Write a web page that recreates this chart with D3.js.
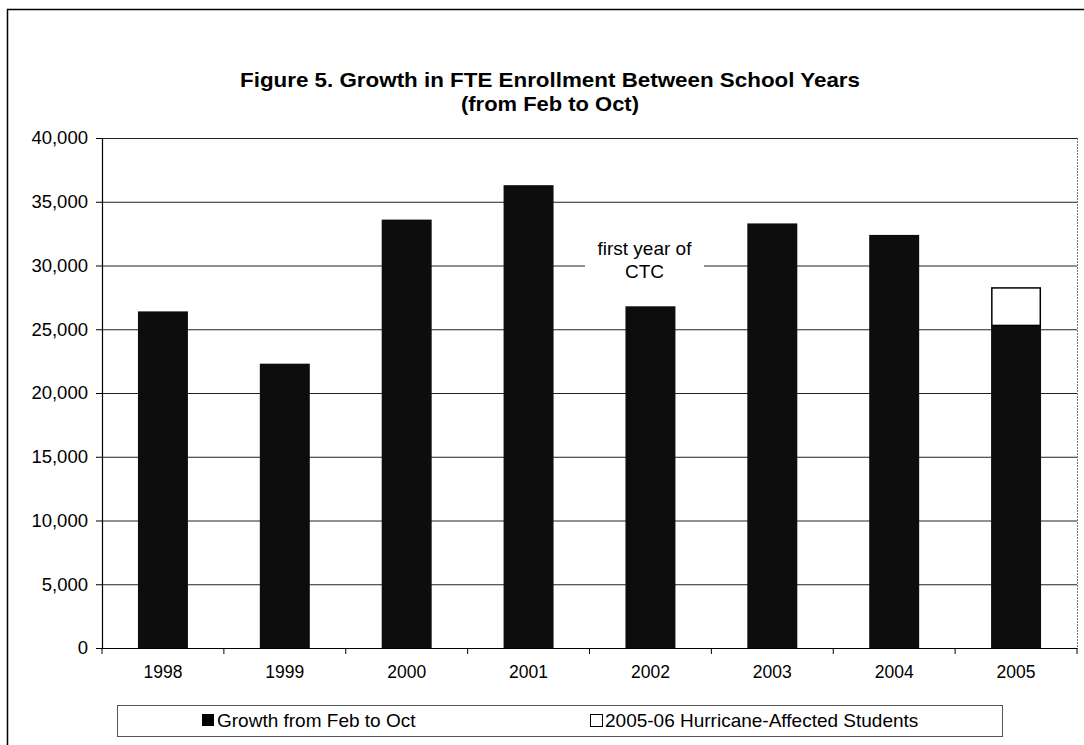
<!DOCTYPE html>
<html><head><meta charset="utf-8">
<script src="https://cdn.jsdelivr.net/npm/d3@7"></script>
<style>body{margin:0;background:#fff}svg{display:block;font-family:"Liberation Sans",Arial,sans-serif}</style>
</head><body><svg id="c" width="1084" height="745"></svg>
<script>
const years = ["1998","1999","2000","2001","2002","2003","2004","2005"];
const growth = [26400, 22300, 33600, 36300, 26800, 33300, 32400, 25300];
const hurricane = [0, 0, 0, 0, 0, 0, 0, 3000];
const yTicks = [0,5000,10000,15000,20000,25000,30000,35000,40000];
const seriesNames = ["Growth from Feb to Oct", "2005-06 Hurricane-Affected Students"];

const svg = d3.select("#c");
const L = 102, R = 1077, T = 138, B = 648;
const x = d3.scaleBand().domain(years).range([L, R]).paddingInner(0.59).paddingOuter(0.295);
const y = d3.scaleLinear().domain([0, 40000]).range([B, T]);

// outer border
svg.append("path").attr("d","M7.5,745 L7.5,9.5 L1084,9.5").attr("fill","none").attr("stroke","#000").attr("stroke-width",1.5);

// title
svg.append("text").attr("x",550).attr("y",87).attr("text-anchor","middle").attr("font-weight","bold").attr("font-size",21)
  .attr("textLength",620).attr("lengthAdjust","spacingAndGlyphs").text("Figure 5.  Growth in FTE Enrollment Between School Years");
svg.append("text").attr("x",550).attr("y",111).attr("text-anchor","middle").attr("font-weight","bold").attr("font-size",21)
  .attr("textLength",178).attr("lengthAdjust","spacingAndGlyphs").text("(from Feb to Oct)");

// gridlines
svg.append("g").selectAll("line").data(yTicks.filter(d=>d>0)).join("line")
  .attr("x1",L).attr("x2",R).attr("y1",d=>y(d)+0.5).attr("y2",d=>y(d)+0.5)
  .attr("stroke","#222").attr("stroke-width",1);
// right border of plot
svg.append("line").attr("x1",R+0.5).attr("x2",R+0.5).attr("y1",T).attr("y2",B).attr("stroke","#777").attr("stroke-dasharray","2,1");

// y axis
const ya = svg.append("g").attr("transform",`translate(${L},0)`)
  .call(d3.axisLeft(y).tickValues(yTicks).tickSize(6).tickPadding(8).tickFormat(d3.format(",")));
ya.select(".domain").attr("stroke","#000").attr("stroke-width",1.2);
ya.selectAll("text").attr("font-size",18.5).attr("fill","#000").attr("font-family","Liberation Sans, Arial, sans-serif");

// x axis
const xa = svg.append("g").attr("transform",`translate(0,${B})`)
  .call(d3.axisBottom(x).tickSize(0).tickPadding(18));
xa.select(".domain").attr("stroke","#000").attr("stroke-width",1.2);
xa.selectAll("text").attr("font-size",17.5).attr("fill","#000").attr("font-family","Liberation Sans, Arial, sans-serif");
const step = x.step();
svg.append("g").selectAll("line").data(d3.range(years.length+1)).join("line")
  .attr("x1",i=>L+i*step).attr("x2",i=>L+i*step).attr("y1",B).attr("y2",B+6).attr("stroke","#000");

// bars
svg.append("g").selectAll("rect").data(years).join("rect")
  .attr("x",d=>x(d)).attr("width",x.bandwidth())
  .attr("y",(d,i)=>y(growth[i])).attr("height",(d,i)=>y(0)-y(growth[i]))
  .attr("fill","#0d0d0d");
svg.append("g").selectAll("rect").data(years.filter((d,i)=>hurricane[i]>0)).join("rect")
  .attr("x",d=>x(d)+0.75).attr("width",x.bandwidth()-1.5)
  .attr("y",d=>{const i=years.indexOf(d);return y(growth[i]+hurricane[i])+0.75;})
  .attr("height",d=>{const i=years.indexOf(d);return y(growth[i])-y(growth[i]+hurricane[i])-0.75;})
  .attr("fill","#fff").attr("stroke","#000").attr("stroke-width",1.5);

// annotation
const ax = x("2002")+x.bandwidth()/2 - 6;
svg.append("rect").attr("x",585).attr("y",y(31500)).attr("width",119).attr("height",45).attr("fill","#fff");
svg.append("text").attr("x",ax).attr("y",y(30850)).attr("text-anchor","middle").attr("font-size",19).text("first year of");
svg.append("text").attr("x",ax).attr("y",y(29050)).attr("text-anchor","middle").attr("font-size",19).text("CTC");

// legend
const lg = svg.append("g");
lg.append("rect").attr("x",117.5).attr("y",705.5).attr("width",885).attr("height",31).attr("fill","#fff").attr("stroke","#555").attr("stroke-width",1);
lg.append("rect").attr("x",202).attr("y",714).attr("width",12).attr("height",12).attr("fill","#000");
lg.append("text").attr("x",217).attr("y",727).attr("font-size",19).text(seriesNames[0]);
lg.append("rect").attr("x",590.5).attr("y",714.5).attr("width",12).attr("height",12).attr("fill","#fff").attr("stroke","#000");
lg.append("text").attr("x",605).attr("y",727).attr("font-size",19).text(seriesNames[1]);
</script></body></html>
